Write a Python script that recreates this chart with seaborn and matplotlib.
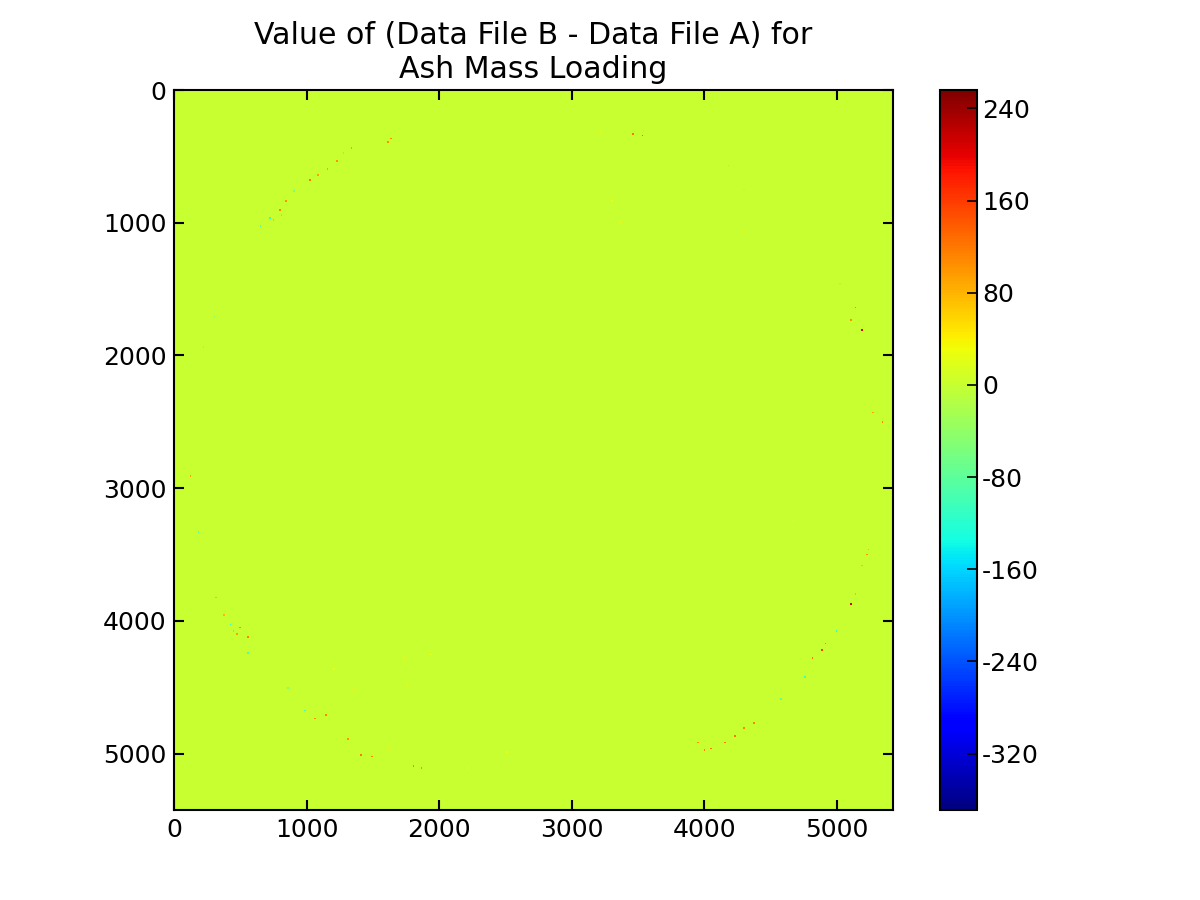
import numpy as np
import matplotlib
matplotlib.use("Agg")
import matplotlib.pyplot as plt
import seaborn as sns

# --- DATA: differanse B - A, nesten null overalt, flekker langs skivekanten ---
grid_size = 5424          # pixels i originalbildet
cell = 12                 # grovere rutenett for tegning
vmin, vmax = -369, 256

background_value = 0.0

# (x, y, verdi) lest av bildet
speck_x = [729, 754, 805, 792, 842, 905, 1031, 1081, 1152, 1232, 1282, 1333, 1609, 1635,
           654, 302, 226,
           3458, 3533, 3219, 3370, 3307, 4288, 4300, 5193, 5143, 5105, 5344, 5269, 5017, 4182,
           428, 453, 503, 553, 478, 553, 377, 314, 189, 126, 1056, 1144, 1308, 1408, 1496,
           1610, 1811, 1861, 2213, 1761, 1861, 1358, 1207, 1735, 1937, 993, 855, 2515,
           5239, 5193, 5143, 5100, 4992, 4917, 4891, 4816, 4753, 4577, 4376, 4300, 4225,
           4162, 4049, 3999, 4087, 3948, 5231, 4678]
speck_y = [968, 980, 943, 905, 830, 767, 679, 641, 591, 528, 478, 440, 390, 365,
           1031, 1710, 1936,
           332, 347, 314, 1006, 830, 1056, 755, 1806, 1635, 1735, 2502, 2427, 1459, 568,
           4024, 4074, 4049, 4124, 4099, 4238, 3948, 3823, 3332, 2905, 4728, 4715, 4892, 5005, 5017,
           4967, 5093, 5105, 5105, 4477, 4514, 4514, 4363, 4275, 4250, 4678, 4502, 4980,
           3458, 3584, 3797, 3873, 4074, 4175, 4212, 4275, 4426, 4590, 4766, 4803, 4866,
           4917, 4962, 4972, 4854, 4917, 3496, 3244]
speck_val = [-110, -100, -90, 110, 100, -60, 120, 90, -140, 100, -70, 90, 100, 110,
             -80, -50, -50,
             120, 130, 40, 40, 30, 40, -30, 200, 110, 100, 110, 90, -50, -60,
             -110, -100, 100, 110, 90, -90, 80, 80, -80, 90, 100, 110, 100, 120, 110,
             40, 110, 100, 30, 40, 40, 40, 30, 40, 30, -90, -50, 30,
             -130, -110, -120, 200, -100, 110, 160, 120, -100, -80, 110, 110, 120,
             120, 120, 110, 50, 100, 100, 30]

ticks = [0, 1000, 2000, 3000, 4000, 5000]
cbar_ticks = [240, 160, 80, 0, -80, -160, -240, -320]


def build_grid():
    """Lager rutenettet fra bakgrunn og flekker"""
    n = grid_size // cell
    data = np.full((n, n), background_value)
    for x, y, v in zip(speck_x, speck_y, speck_val):
        data[min(y // cell, n - 1), min(x // cell, n - 1)] = v
    return data


# --- FIGUR ---
data = build_grid()
fig = plt.figure(figsize=(8, 6), dpi=150)
ax = fig.add_axes([174 / 1200, 90 / 900, 719 / 1200, 720 / 900])
cax = fig.add_axes([940 / 1200, 90 / 900, 37 / 1200, 720 / 900])

sns.heatmap(data, ax=ax, cbar_ax=cax, cmap="jet", vmin=vmin, vmax=vmax,
            xticklabels=False, yticklabels=False, rasterized=True)

ax.set_xlim(0, grid_size / cell)
ax.set_ylim(grid_size / cell, 0)
ax.set_xticks([t / cell for t in ticks])
ax.set_xticklabels([str(t) for t in ticks])
ax.set_yticks([t / cell for t in ticks])
ax.set_yticklabels([str(t) for t in ticks])
ax.tick_params(direction="in", length=5, width=1, top=True, right=True,
               labelsize=12, pad=4, colors="black")
ax.tick_params(axis="y", pad=3.5)
for s in ax.spines.values():
    s.set_visible(True)
    s.set_linewidth(1)
    s.set_color("black")
ax.set_title("Value of (Data File B - Data File A) for\nAsh Mass Loading", fontsize=14.4)

cax.set_yticks(cbar_ticks)
cax.set_yticklabels([str(t) for t in cbar_ticks])
cax.tick_params(direction="in", length=5, width=0.8, labelsize=12, pad=2.5)
cbar = ax.collections[0].colorbar
cbar.outline.set_linewidth(1)
cbar.outline.set_edgecolor("black")

fig.savefig("out.png", dpi=150)
